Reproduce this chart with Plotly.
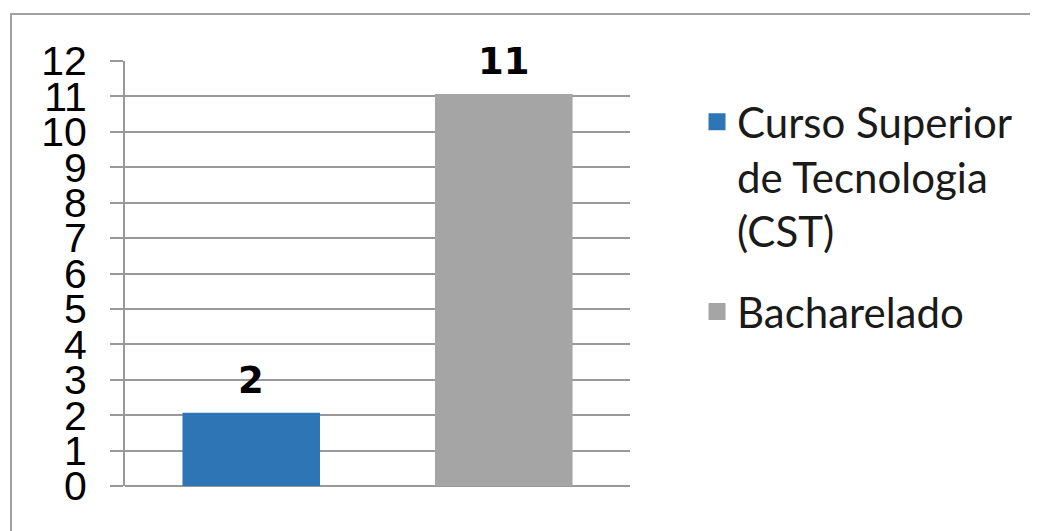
import plotly.graph_objects as go

categories = ["Curso Superior<br>de Tecnologia<br>(CST)", "Bacharelado"]
values = [2, 11]
colors = ["#2E75B6", "#A5A5A5"]
y_ticks = list(range(0, 13))

OFF = 8  # page body margin
W, H = 1038, 531
L = 125 - OFF
T = 61 - OFF
R = W - (630 - OFF)
B = H - (486 - OFF)
pw = W - L - R
ph = H - T - B

def px_x(p):
    return (p - OFF - L) / pw

def px_y(p):
    return (H - B - (p - OFF)) / ph

fig = go.Figure()
for i, (cat, val, col) in enumerate(zip(categories, values, colors)):
    fig.add_trace(go.Bar(
        x=[cat], y=[val], name=cat,
        marker=dict(color=col, line=dict(color=col, width=5)),
        width=0.525, legendgroup=f"g{i}",
    ))
    fig.add_annotation(
        x=cat, y=val, text=f"<b>{val}</b>", showarrow=False,
        yanchor="bottom", yshift=11,
        font=dict(family="DejaVu Sans", size=37, color="#000000"),
    )

grid = "#999999"
fig.update_layout(
    width=W, height=H, autosize=False,
    margin=dict(l=L, r=R, t=T, b=B),
    plot_bgcolor="white", paper_bgcolor="white",
    barmode="overlay",
    showlegend=True,
    legend=dict(
        x=px_x(697), y=px_y(88), xanchor="left", yanchor="top",
        font=dict(family="Lato", size=42, color="#1a1a1a"),
        valign="top", traceorder="grouped", tracegroupgap=23,
        bgcolor="rgba(0,0,0,0)",
    ),
    xaxis=dict(
        showticklabels=False, showgrid=False, showline=False,
        ticks="", zeroline=False, fixedrange=True,
    ),
    yaxis=dict(
        range=[0, 12], tickvals=y_ticks, ticktext=[str(v) for v in y_ticks],
        showgrid=True, gridcolor=grid, gridwidth=2,
        zeroline=True, zerolinecolor=grid, zerolinewidth=2,
        showline=True, linecolor=grid, linewidth=2,
        ticks="outside", ticklen=13, tickcolor=grid, tickwidth=2,
        ticklabelstandoff=15,
        tickfont=dict(family="Liberation Sans", size=41, color="#000000"),
    ),
    shapes=[dict(
        type="rect", xref="paper", yref="paper",
        x0=px_x(11), x1=px_x(1045), y0=px_y(540), y1=px_y(14),
        line=dict(color="#a0a0a0", width=2), fillcolor="rgba(0,0,0,0)",
        layer="below",
    )],
)

fig.write_html("out.html")
